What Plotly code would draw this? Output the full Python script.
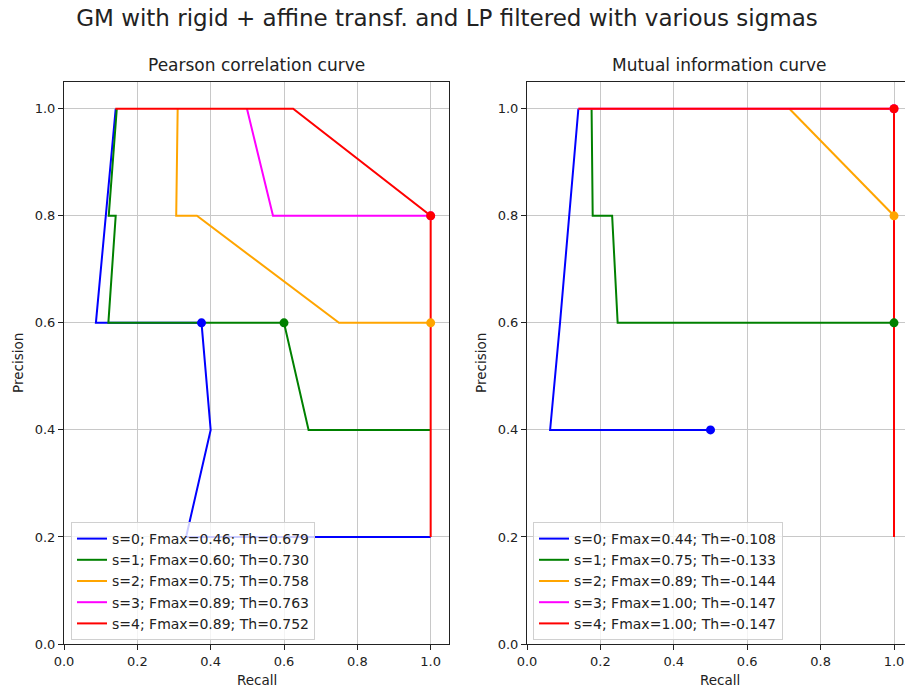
import plotly.graph_objects as go

# ---------------- data ----------------
sigmas = [0, 1, 2, 3, 4]
colors = ["blue", "green", "orange", "magenta", "red"]

# Pearson correlation curve (left)
pc_recall = [
    [1.0, 0.333, 0.40, 0.375, 0.087, 0.141],
    [1.0, 0.667, 0.60, 0.121, 0.141, 0.122, 0.144],
    [1.0, 0.75, 0.3625, 0.306, 0.31],
    [1.0, 0.57, 0.499],
    [1.0, 1.0, 0.625, 0.14],
]
pc_precision = [
    [0.2, 0.2, 0.4, 0.6, 0.6, 1.0],
    [0.4, 0.4, 0.6, 0.6, 0.8, 0.8, 1.0],
    [0.6, 0.6, 0.8, 0.8, 1.0],
    [0.8, 0.8, 1.0],
    [0.2, 0.8, 1.0, 1.0],
]
pc_best_recall = [0.375, 0.60, 1.0, 1.0, 1.0]
pc_best_precision = [0.6, 0.6, 0.6, 0.8, 0.8]
pc_fmax = ["0.46", "0.60", "0.75", "0.89", "0.89"]
pc_th = ["0.679", "0.730", "0.758", "0.763", "0.752"]

# Mutual information curve (right)
mi_recall = [
    [0.5, 0.063, 0.09, 0.14],
    [1.0, 0.247, 0.232, 0.179, 0.176],
    [1.0, 0.715],
    [1.0, 1.0, 0.14],
    [1.0, 1.0, 0.14],
]
mi_precision = [
    [0.4, 0.4, 0.6, 1.0],
    [0.6, 0.6, 0.8, 0.8, 1.0],
    [0.8, 1.0],
    [0.2, 1.0, 1.0],
    [0.2, 1.0, 1.0],
]
mi_best_recall = [0.5, 1.0, 1.0, 1.0, 1.0]
mi_best_precision = [0.4, 0.6, 0.8, 1.0, 1.0]
mi_fmax = ["0.44", "0.75", "0.89", "1.00", "1.00"]
mi_th = ["-0.108", "-0.133", "-0.144", "-0.147", "-0.147"]

ticks = [0.0, 0.2, 0.4, 0.6, 0.8, 1.0]
tick_text = ["0.0", "0.2", "0.4", "0.6", "0.8", "1.0"]

# ---------------- figure ----------------
FONT = "DejaVu Sans"
W, H = 905, 689
ML, MR, MT, MB = 64, 0, 82, 45
PW = W - ML - MR
PH = H - MT - MB


def px_x(p):
    return (p - ML) / PW


def px_y(p):
    return (H - MB - p) / PH


fig = go.Figure()

panels = [
    ("x", "y", "legend", pc_recall, pc_precision, pc_best_recall, pc_best_precision, pc_fmax, pc_th),
    ("x2", "y2", "legend2", mi_recall, mi_precision, mi_best_recall, mi_best_precision, mi_fmax, mi_th),
]

for xa, ya, lg, R, P, BR, BP, FM, TH in panels:
    for i, s in enumerate(sigmas):
        fig.add_trace(go.Scatter(
            x=R[i], y=P[i], mode="lines", xaxis=xa, yaxis=ya,
            line=dict(color=colors[i], width=2),
            name=f"s={s}; Fmax={FM[i]}; Th={TH[i]}",
            legend=lg, showlegend=True, hoverinfo="skip",
        ))
    for i, s in enumerate(sigmas):
        fig.add_trace(go.Scatter(
            x=[BR[i]], y=[BP[i]], mode="markers", xaxis=xa, yaxis=ya,
            marker=dict(color=colors[i], size=9),
            showlegend=False, hoverinfo="skip",
        ))

axis_common = dict(
    tickmode="array", tickvals=ticks, ticktext=tick_text,
    showgrid=True, gridcolor="#c8c8c8", gridwidth=1,
    zeroline=False, showline=True, linecolor="#222222", linewidth=1,
    ticks="outside", ticklen=5, tickcolor="#222222", tickwidth=1,
    tickfont=dict(family=FONT, size=13, color="#222222"),
)

left_dom = [0.0, px_x(449)]
right_dom = [px_x(527), 1.0]
right_xmax = (W - 527) / ((894 - 527) / 1.0)

legend_common = dict(
    xanchor="left", yanchor="bottom",
    bgcolor="rgba(255,255,255,0.8)", bordercolor="#d0d0d0", borderwidth=1,
    font=dict(family=FONT, size=14, color="#222222"),
    tracegroupgap=0,
)

fig.update_layout(
    width=W, height=H,
    margin=dict(l=ML, r=MR, t=MT, b=MB),
    paper_bgcolor="white", plot_bgcolor="white",
    font=dict(family=FONT, color="#222222"),
    title=dict(
        text="GM with rigid + affine transf. and LP filtered with various sigmas",
        x=447 / W, xanchor="center", y=1 - 18 / H, yanchor="middle",
        font=dict(family=FONT, size=23, color="#222222"),
    ),
    xaxis=dict(domain=left_dom, range=[0, 1.05], mirror=True, anchor="y", **axis_common),
    yaxis=dict(domain=[0, 1], range=[0, 1.05], mirror=True, anchor="x", **axis_common),
    xaxis2=dict(domain=right_dom, range=[0, right_xmax], mirror=True, anchor="y2", **axis_common),
    yaxis2=dict(domain=[0, 1], range=[0, 1.05], mirror=False, anchor="x2", **axis_common),
    legend=dict(x=px_x(71), y=px_y(640), **legend_common),
    legend2=dict(x=px_x(533), y=px_y(640), **legend_common),
    showlegend=True,
)

ann_font = dict(family=FONT, size=13.5, color="#222222")
title_font = dict(family=FONT, size=17, color="#222222")
annotations = [
    dict(text="Pearson correlation curve", x=px_x(256.5), y=1, xref="paper", yref="paper",
         xanchor="center", yanchor="bottom", yshift=5, showarrow=False, font=title_font),
    dict(text="Mutual information curve", x=px_x(719.5), y=1, xref="paper", yref="paper",
         xanchor="center", yanchor="bottom", yshift=5, showarrow=False, font=title_font),
    dict(text="Recall", x=px_x(256.5), y=px_y(680), xref="paper", yref="paper",
         xanchor="center", yanchor="middle", showarrow=False, font=ann_font),
    dict(text="Recall", x=px_x(719.5), y=px_y(680), xref="paper", yref="paper",
         xanchor="center", yanchor="middle", showarrow=False, font=ann_font),
    dict(text="Precision", x=px_x(18), y=px_y(363), xref="paper", yref="paper",
         xanchor="center", yanchor="middle", textangle=-90, showarrow=False, font=ann_font),
    dict(text="Precision", x=px_x(481), y=px_y(363), xref="paper", yref="paper",
         xanchor="center", yanchor="middle", textangle=-90, showarrow=False, font=ann_font),
]
fig.update_layout(annotations=annotations)

fig.write_html(
    "out.html",
    config={"displayModeBar": False},
    post_script="document.body.style.margin='0';document.body.style.padding='0';",
)
